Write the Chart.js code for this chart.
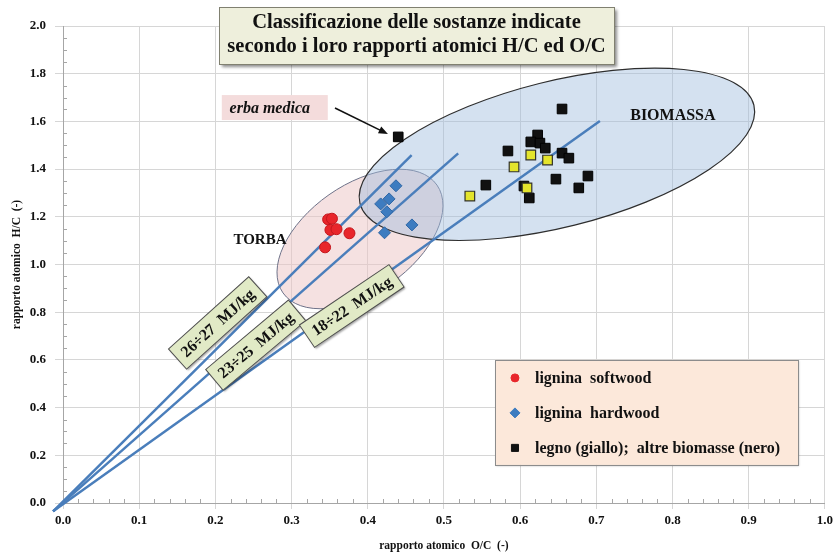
<!DOCTYPE html>
<html lang="it">
<head>
<meta charset="utf-8">
<title>Classificazione delle sostanze – rapporti H/C e O/C</title>
<script src="https://cdn.jsdelivr.net/npm/chart.js@4.4.1/dist/chart.umd.min.js"></script>
<style>
  html, body { margin: 0; padding: 0; background: #ffffff; }
  #wrap { width: 837px; height: 558px; position: relative; }
</style>
</head>
<body>
<div id="wrap"><canvas id="chart"></canvas></div>
<script>
// ---- Rapporti atomici: O/C sull'asse x, H/C sull'asse y ----
const softwoodOC = [0.348, 0.353, 0.351, 0.359, 0.376, 0.344];
const softwoodHC = [1.189, 1.192, 1.145, 1.148, 1.131, 1.072];

const hardwoodOC = [0.437, 0.428, 0.417, 0.425, 0.458, 0.422];
const hardwoodHC = [1.330, 1.275, 1.254, 1.221, 1.166, 1.133];

const legnoOC = [0.614, 0.592, 0.636, 0.609, 0.534];
const legnoHC = [1.459, 1.409, 1.438, 1.321, 1.287];

const biomasseOC = [0.440, 0.655, 0.623, 0.614, 0.626, 0.633, 0.584, 0.655, 0.664, 0.689, 0.647, 0.677, 0.555, 0.605, 0.612];
const biomasseHC = [1.535, 1.652, 1.543, 1.514, 1.509, 1.488, 1.476, 1.467, 1.446, 1.371, 1.358, 1.321, 1.333, 1.329, 1.279];

// Rette a potere calorifico costante (origine comune, estremo superiore)
const isoLabels = ['26÷27  MJ/kg', '23÷25  MJ/kg', '18÷22  MJ/kg'];
const isoStartOC = -0.013;
const isoStartHC = -0.035;
const isoEndOC = [0.4576, 0.5187, 0.7047];
const isoEndHC = [1.459, 1.466, 1.602];

// Etichette degli assi
const xTickStep = 0.1;
const yTickStep = 0.2;
const legendLabels = ['lignina  softwood', 'lignina  hardwood', 'legno (giallo);  altre biomasse (nero)'];
const titleLines = ['Classificazione delle sostanze indicate', 'secondo i loro rapporti atomici H/C ed O/C'];

// ---- Stili e posizionamento delle annotazioni ----
const SERIF = "'Liberation Serif', 'Times New Roman', serif";
const LINE_BLUE = '#4a7ebb';

const zones = [
  { name: 'TORBA', oc: 0.3898, hc: 1.107, rx: 94, ry: 54, angle: -35,
    fill: 'rgba(236,196,196,0.50)', stroke: '#6e7289', lineWidth: 1,
    textOC: 0.2585, textHC: 1.103, size: 15 },
  { name: 'BIOMASSA', oc: 0.6483, hc: 1.462, rx: 203, ry: 73, angle: -14,
    fill: 'rgba(160,188,222,0.45)', stroke: '#2e2e2e', lineWidth: 1.2,
    textOC: 0.8005, textHC: 1.623, size: 16 }
];

const isoBoxes = [
  { oc: 0.203, hc: 0.755, angle: -42 },
  { oc: 0.253, hc: 0.662, angle: -40 },
  { oc: 0.379, hc: 0.826, angle: -34 }
];

const toPts = (xs, ys) => xs.map((v, i) => ({ x: v, y: ys[i] }));

const pointSets = [
  { label: legendLabels[0], data: toPts(softwoodOC, softwoodHC), pointStyle: 'circle', pointRadius: 5.5,
    backgroundColor: '#e8262b', borderColor: '#c3171d', borderWidth: 1, order: 3 },
  { label: legendLabels[1], data: toPts(hardwoodOC, hardwoodHC), pointStyle: 'rectRot', pointRadius: 6,
    backgroundColor: '#3d7cc0', borderColor: '#2f67a5', borderWidth: 1, order: 2 },
  { label: 'altre biomasse', data: toPts(biomasseOC, biomasseHC), pointStyle: 'rect', pointRadius: 6.8,
    backgroundColor: '#111111', borderColor: '#000000', borderWidth: 1, order: 1 },
  { label: 'legno', data: toPts(legnoOC, legnoHC), pointStyle: 'rect', pointRadius: 6.8,
    backgroundColor: '#e4e42c', borderColor: '#33332a', borderWidth: 1.2, order: 0 }
];

const isoSets = isoLabels.map((lab, i) => ({
  label: lab,
  data: [{ x: isoStartOC, y: isoStartHC }, { x: isoEndOC[i], y: isoEndHC[i] }],
  showLine: true, pointRadius: 0, pointHoverRadius: 0,
  borderColor: LINE_BLUE, borderWidth: 2.5, fill: false, clip: false, order: 10
}));

// Ellissi delle zone + tacche secondarie degli assi
const zonePlugin = {
  id: 'zones',
  beforeDatasetsDraw(chart) {
    const { ctx, scales: { x, y }, chartArea } = chart;
    zones.forEach(z => {
      ctx.save();
      ctx.beginPath();
      ctx.ellipse(x.getPixelForValue(z.oc), y.getPixelForValue(z.hc), z.rx, z.ry,
                  z.angle * Math.PI / 180, 0, Math.PI * 2);
      ctx.fillStyle = z.fill;
      ctx.fill();
      ctx.lineWidth = z.lineWidth;
      ctx.strokeStyle = z.stroke;
      ctx.stroke();
      ctx.restore();
    });

    ctx.save();
    ctx.strokeStyle = '#a6a6a6';
    ctx.lineWidth = 1;
    ctx.beginPath();
    for (let k = 1; k < 40; k++) {
      if (k % 4 === 0) continue;
      const py = Math.round(y.getPixelForValue(k * 0.05)) + 0.5;
      ctx.moveTo(chartArea.left, py);
      ctx.lineTo(chartArea.left + 4, py);
    }
    for (let k = 1; k < 50; k++) {
      if (k % 5 === 0) continue;
      const px = Math.round(x.getPixelForValue(k * 0.02)) + 0.5;
      ctx.moveTo(px, chartArea.bottom);
      ctx.lineTo(px, chartArea.bottom - 4);
    }
    ctx.stroke();
    ctx.restore();
  }
};

// Scritte, riquadri, freccia e legenda
const notesPlugin = {
  id: 'notes',
  afterDatasetsDraw(chart) {
    const { ctx, scales: { x, y } } = chart;

    // riquadri ruotati lungo le rette
    isoBoxes.forEach((b, i) => {
      const px = x.getPixelForValue(b.oc), py = y.getPixelForValue(b.hc);
      const w = 108, h = 27;
      ctx.save();
      ctx.translate(px, py);
      ctx.rotate(b.angle * Math.PI / 180);
      ctx.save();
      ctx.shadowColor = 'rgba(0,0,0,0.35)';
      ctx.shadowBlur = 2; ctx.shadowOffsetX = 1.5; ctx.shadowOffsetY = 1.5;
      ctx.fillStyle = '#e1eac6';
      ctx.fillRect(-w / 2, -h / 2, w, h);
      ctx.restore();
      ctx.strokeStyle = '#4f4f4f';
      ctx.lineWidth = 1;
      ctx.strokeRect(-w / 2, -h / 2, w, h);
      ctx.fillStyle = '#111';
      ctx.font = 'bold 16px ' + SERIF;
      ctx.textAlign = 'center';
      ctx.textBaseline = 'middle';
      ctx.fillText(isoLabels[i], 0, 1);
      ctx.restore();
    });

    // nomi delle zone
    ctx.save();
    ctx.fillStyle = '#111';
    ctx.textAlign = 'center';
    ctx.textBaseline = 'middle';
    zones.forEach(z => {
      ctx.font = 'bold ' + z.size + 'px ' + SERIF;
      ctx.fillText(z.name, x.getPixelForValue(z.textOC), y.getPixelForValue(z.textHC));
    });
    ctx.restore();

    // erba medica: etichetta e freccia
    const ex = x.getPixelForValue(0.278), ey = y.getPixelForValue(1.658);
    ctx.save();
    ctx.fillStyle = '#f4dcdc';
    ctx.fillRect(ex - 53, ey - 12.5, 106, 25);
    ctx.fillStyle = '#111';
    ctx.font = 'italic bold 16px ' + SERIF;
    ctx.textAlign = 'center';
    ctx.textBaseline = 'middle';
    ctx.fillText('erba medica', ex - 5, ey + 1);
    const ax0 = x.getPixelForValue(0.357), ay0 = y.getPixelForValue(1.656);
    const ax1 = x.getPixelForValue(0.4265), ay1 = y.getPixelForValue(1.547);
    const ang = Math.atan2(ay1 - ay0, ax1 - ax0);
    ctx.strokeStyle = '#111';
    ctx.lineWidth = 1.6;
    ctx.beginPath();
    ctx.moveTo(ax0, ay0);
    ctx.lineTo(ax1 - 6 * Math.cos(ang), ay1 - 6 * Math.sin(ang));
    ctx.stroke();
    ctx.beginPath();
    ctx.moveTo(ax1, ay1);
    ctx.lineTo(ax1 - 10 * Math.cos(ang - 0.38), ay1 - 10 * Math.sin(ang - 0.38));
    ctx.lineTo(ax1 - 10 * Math.cos(ang + 0.38), ay1 - 10 * Math.sin(ang + 0.38));
    ctx.closePath();
    ctx.fillStyle = '#111';
    ctx.fill();
    ctx.restore();
  },
  afterDraw(chart) {
    const { ctx, scales: { x, y } } = chart;

    // titolo nel riquadro
    ctx.save();
    const tx = 219, ty = 7, tw = 395, th = 57;
    ctx.save();
    ctx.shadowColor = 'rgba(0,0,0,0.45)';
    ctx.shadowBlur = 3; ctx.shadowOffsetX = 3; ctx.shadowOffsetY = 3;
    ctx.fillStyle = '#eeefdc';
    ctx.fillRect(tx, ty, tw, th);
    ctx.restore();
    ctx.strokeStyle = '#808070';
    ctx.lineWidth = 1;
    ctx.strokeRect(tx + 0.5, ty + 0.5, tw, th);
    ctx.fillStyle = '#111';
    ctx.font = 'bold 20.5px ' + SERIF;
    ctx.textAlign = 'center';
    ctx.textBaseline = 'middle';
    ctx.fillText(titleLines[0], tx + tw / 2, 23, tw - 6);
    ctx.fillText(titleLines[1], tx + tw / 2, 47, tw - 6);
    ctx.restore();

    // legenda
    const lx = x.getPixelForValue(0.567), ly = y.getPixelForValue(0.6);
    const lw = 303, lh = 105;
    ctx.save();
    ctx.save();
    ctx.shadowColor = 'rgba(0,0,0,0.25)';
    ctx.shadowBlur = 2; ctx.shadowOffsetX = 1.5; ctx.shadowOffsetY = 1.5;
    ctx.fillStyle = '#fce8da';
    ctx.fillRect(lx, ly, lw, lh);
    ctx.restore();
    ctx.strokeStyle = '#8c8c8c';
    ctx.lineWidth = 1;
    ctx.strokeRect(Math.round(lx) + 0.5, Math.round(ly) + 0.5, lw, lh);
    const markers = [
      { style: 'circle', radius: 4, fill: '#e8262b', stroke: '#e8262b' },
      { style: 'rectRot', radius: 5, fill: '#3d7cc0', stroke: '#3d7cc0' },
      { style: 'rect', radius: 5, fill: '#111111', stroke: '#111111' }
    ];
    ctx.font = 'bold 16px ' + SERIF;
    ctx.textAlign = 'left';
    ctx.textBaseline = 'middle';
    legendLabels.forEach((lab, i) => {
      const ry = ly + 18 + i * 35;
      const m = markers[i];
      ctx.fillStyle = m.fill;
      ctx.strokeStyle = m.stroke;
      Chart.helpers.drawPoint(ctx, { pointStyle: m.style, radius: m.radius, borderWidth: 1, rotation: 0 }, lx + 20, ry);
      ctx.fillStyle = '#111';
      ctx.fillText(lab, lx + 40, ry + 1);
    });
    ctx.restore();
  }
};

new Chart(document.getElementById('chart'), {
  type: 'scatter',
  data: { datasets: [...pointSets, ...isoSets] },
  options: {
    responsive: true,
    maintainAspectRatio: false,
    animation: false,
    events: [],
    layout: { padding: { top: 26, right: 12, left: 0, bottom: 0 } },
    plugins: { legend: { display: false }, tooltip: { enabled: false }, title: { display: false } },
    scales: {
      x: {
        type: 'linear', min: 0, max: 1,
        afterFit(s) { s.height = 55; },
        ticks: {
          stepSize: xTickStep, padding: 4, color: '#111',
          font: { family: SERIF, size: 13, weight: 'bold' },
          callback: v => v.toFixed(1)
        },
        grid: { color: '#d6d6d6', lineWidth: 1, tickLength: 6 },
        border: { color: '#a6a6a6', width: 1 },
        title: {
          display: true, text: 'rapporto atomico  O/C  (-)', color: '#111',
          font: { family: SERIF, size: 11.5, weight: 'bold' },
          padding: { top: 0, bottom: 5 }
        }
      },
      y: {
        type: 'linear', min: 0, max: 2,
        afterFit(s) { s.width = 63; },
        ticks: {
          stepSize: yTickStep, padding: 9, color: '#111',
          font: { family: SERIF, size: 13, weight: 'bold' },
          callback: v => v.toFixed(1)
        },
        grid: { color: '#d6d6d6', lineWidth: 1, tickLength: 8 },
        border: { color: '#a6a6a6', width: 1 },
        title: {
          display: true, text: 'rapporto atomico  H/C  (-)', color: '#111',
          font: { family: SERIF, size: 11.5, weight: 'bold' },
          padding: { top: 10, bottom: 0 }
        }
      }
    }
  },
  plugins: [zonePlugin, notesPlugin]
});
</script>
</body>
</html>
